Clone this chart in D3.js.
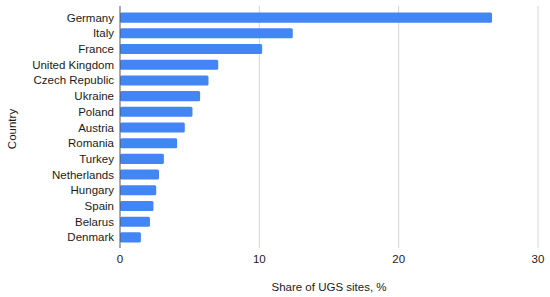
<!DOCTYPE html>
<html>
<head>
<meta charset="utf-8">
<script src="https://cdn.jsdelivr.net/npm/d3@7"></script>
<style>
  body { margin: 0; background: #fff; }
  text { font-family: "Liberation Sans", Arial, sans-serif; fill: #1a1a1a; }
</style>
</head>
<body>
<svg id="chart" width="550" height="297"></svg>
<script>
const countries = ['Germany', 'Italy', 'France', 'United Kingdom', 'Czech Republic', 'Ukraine', 'Poland',
  'Austria', 'Romania', 'Turkey', 'Netherlands', 'Hungary', 'Spain', 'Belarus', 'Denmark'];
const shares = [26.7, 12.4, 10.2, 7.05, 6.35, 5.75, 5.2, 4.65, 4.1, 3.15, 2.8, 2.6, 2.4, 2.15, 1.5];
const xTicks = [0, 10, 20, 30];

const svg = d3.select('#chart');
const plotLeft = 120, plotRight = 538, plotTop = 6, plotBottom = 248;
const fs = 11.5;

const x = d3.scaleLinear().domain([0, 30]).range([plotLeft, plotRight]);
const y = d3.scaleBand().domain(countries).range([9.8, 245.2]).paddingInner(0.36).paddingOuter(0.18);

// grid lines
svg.append('g')
  .selectAll('line')
  .data(xTicks.slice(1))
  .enter().append('line')
  .attr('x1', d => x(d)).attr('x2', d => x(d))
  .attr('y1', plotTop).attr('y2', plotBottom)
  .attr('stroke', '#d6d6d6').attr('stroke-width', 1);

// bars
svg.append('g')
  .selectAll('rect')
  .data(countries)
  .enter().append('rect')
  .attr('x', x(0))
  .attr('y', d => y(d))
  .attr('width', (d, i) => x(shares[i]) - x(0))
  .attr('height', y.bandwidth())
  .attr('rx', 1.5)
  .attr('fill', '#4285f4');

// baseline
svg.append('line')
  .attr('x1', x(0)).attr('x2', x(0))
  .attr('y1', plotTop).attr('y2', plotBottom)
  .attr('stroke', '#555').attr('stroke-width', 1);

// country labels
svg.append('g')
  .selectAll('text')
  .data(countries)
  .enter().append('text')
  .attr('x', plotLeft - 6)
  .attr('y', d => y(d) + y.bandwidth() / 2)
  .attr('dy', '0.35em')
  .attr('text-anchor', 'end')
  .attr('font-size', fs)
  .text(d => d);

// x tick labels
svg.append('g')
  .selectAll('text')
  .data(xTicks)
  .enter().append('text')
  .attr('x', d => x(d))
  .attr('y', 259)
  .attr('dy', '0.35em')
  .attr('text-anchor', 'middle')
  .attr('font-size', fs)
  .text(d => d);

// axis titles
svg.append('text')
  .attr('x', (plotLeft + plotRight) / 2)
  .attr('y', 287)
  .attr('dy', '0.35em')
  .attr('text-anchor', 'middle')
  .attr('font-size', fs)
  .text('Share of UGS sites, %');

svg.append('text')
  .attr('transform', 'translate(12,129) rotate(-90)')
  .attr('dy', '0.35em')
  .attr('text-anchor', 'middle')
  .attr('font-size', fs)
  .text('Country');
</script>
</body>
</html>
